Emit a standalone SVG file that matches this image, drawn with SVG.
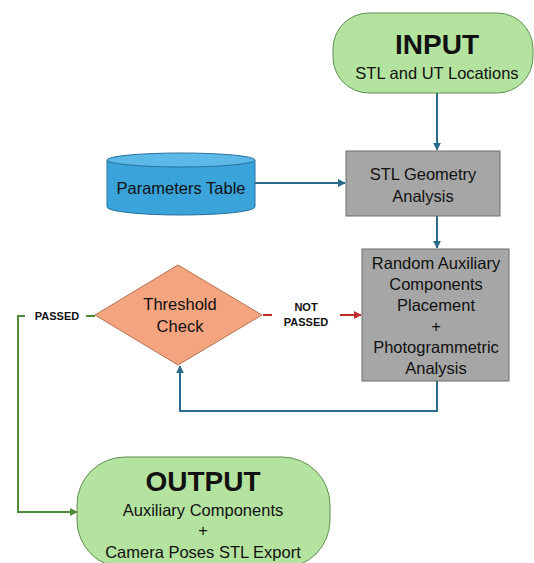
<svg xmlns="http://www.w3.org/2000/svg" width="534" height="563" viewBox="0 0 534 563">
<defs>
<style>
text{font-family:"Liberation Sans",Arial,sans-serif;fill:#111;text-anchor:middle}
.t{font-size:16.5px}
.h{font-size:28px;font-weight:bold}
.s{font-size:11px;font-weight:bold}
.term{fill:#b4e3a0;stroke:#5f8f50;stroke-width:1}
.proc{fill:#a6a6a6;stroke:#6f6f6f;stroke-width:1}
.c{fill:none;stroke-width:2}
.blue{stroke:#286b8a}
.green{stroke:#4f8a3a}
.red{stroke:#c02a2a}
</style>
<marker id="ab" viewBox="0 0 10 10" refX="9" refY="5" markerWidth="4" markerHeight="4" orient="auto"><path d="M0,0L10,5L0,10z" fill="#286b8a"/></marker>
<marker id="ag" viewBox="0 0 10 10" refX="9" refY="5" markerWidth="4" markerHeight="4" orient="auto"><path d="M0,0L10,5L0,10z" fill="#4f8a3a"/></marker>
<marker id="ar" viewBox="0 0 10 10" refX="9" refY="5" markerWidth="4" markerHeight="4" orient="auto"><path d="M0,0L10,5L0,10z" fill="#c02a2a"/></marker>
</defs>
<rect width="534" height="563" fill="#fff"/>
<g id="connectors">
<path class="c blue" d="M437,93V150" marker-end="url(#ab)"/>
<path class="c blue" d="M255,183H345" marker-end="url(#ab)"/>
<path class="c blue" d="M437,216V248" marker-end="url(#ab)"/>
<path class="c blue" d="M437,381V411H180V366" marker-end="url(#ab)"/>
<path class="c red" d="M263,315H272"/>
<path class="c red" d="M340,315H361" marker-end="url(#ar)"/>
<path class="c green" d="M86,316H95"/>
<path class="c green" d="M25,316H18V512H77" marker-end="url(#ag)"/>
<text class="s" x="57" y="320">PASSED</text>
<text class="s" x="306" y="311">NOT</text>
<text class="s" x="306" y="326">PASSED</text>
</g>
<g id="input">
<rect class="term" x="333" y="13" width="200" height="80" rx="36"/>
<text class="h" x="437" y="54">INPUT</text>
<text class="t" x="437" y="79">STL and UT Locations</text>
</g>
<g id="params">
<path d="M107,160V207A74,8 0 0 0 255,207V160" fill="#3aa3da" stroke="#2a72a0"/>
<ellipse cx="181" cy="160" rx="74" ry="7" fill="#5cb8e6" stroke="#2a72a0"/>
<text class="t" x="181" y="194">Parameters Table</text>
</g>
<g id="stl">
<rect class="proc" x="346" y="151" width="154" height="65"/>
<text class="t" x="423" y="180">STL Geometry</text>
<text class="t" x="423" y="202">Analysis</text>
</g>
<g id="random">
<rect class="proc" x="362" y="249" width="147" height="132"/>
<text class="t" x="436" y="269">Random Auxiliary</text>
<text class="t" x="436" y="290">Components</text>
<text class="t" x="436" y="311">Placement</text>
<text class="t" x="436" y="332">+</text>
<text class="t" x="436" y="353">Photogrammetric</text>
<text class="t" x="436" y="374">Analysis</text>
</g>
<g id="threshold">
<path d="M178,265L262,315L178,365L95,315z" fill="#f4a47f" stroke="#b9714f"/>
<text class="t" x="180" y="310">Threshold</text>
<text class="t" x="180" y="332">Check</text>
</g>
<g id="output">
<path class="term" d="M125,457H282A48,48 0 0 1 330,505V520A48,48 0 0 1 282,568H125A48,48 0 0 1 77,520V505A48,48 0 0 1 125,457z"/>
<text class="h" x="203" y="491">OUTPUT</text>
<text class="t" x="203" y="516">Auxiliary Components</text>
<text class="t" x="203" y="536">+</text>
<text class="t" x="203" y="558">Camera Poses STL Export</text>
</g>
</svg>
